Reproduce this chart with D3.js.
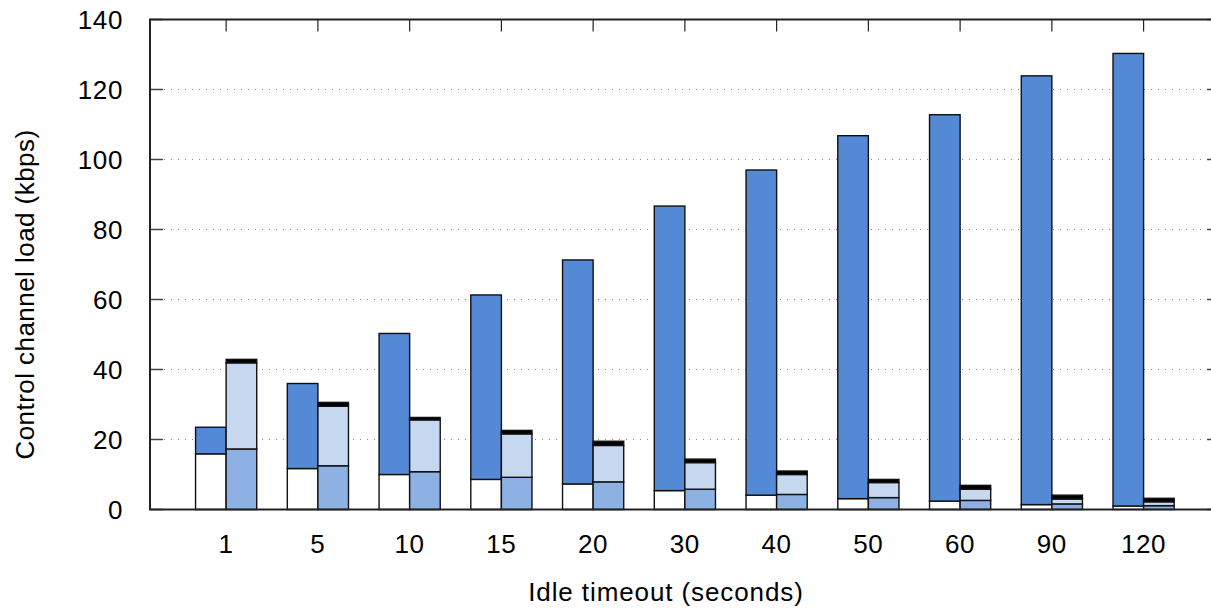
<!DOCTYPE html>
<head>
  <title>Control channel load vs idle timeout</title>
  <meta charset="utf-8">
  <style>
    body { margin: 0; background: #fff; }
    text { font-family: "Liberation Sans", Arial, sans-serif; fill: #000; }
  </style>
</head>
<body>
  <script src="https://cdn.jsdelivr.net/npm/d3@7"></script>
  <script>
    // idle timeouts (x categories)
    var timeouts = ["1", "5", "10", "15", "20", "30", "40", "50", "60", "90", "120"];

    // left bar of each pair: white bottom + dark blue top
    var leftBottom = [15.9, 11.7, 10.0, 8.6, 7.3, 5.4, 4.1, 3.1, 2.4, 1.4, 1.0];
    var leftTop = [7.6, 24.3, 40.3, 52.7, 64.0, 81.3, 92.9, 103.7, 110.4, 122.5, 129.3];

    // right bar of each pair: medium blue + light blue + thin black cap
    var rightBottom = [17.3, 12.5, 10.8, 9.2, 7.9, 5.8, 4.3, 3.4, 2.6, 1.6, 1.1];
    var rightMiddle = [24.6, 17.0, 14.8, 12.4, 10.4, 7.6, 5.7, 4.3, 3.2, 1.4, 1.1];
    var rightCap = [1.0, 1.1, 0.7, 1.0, 1.2, 1.0, 1.0, 0.9, 1.1, 1.1, 1.0];

    var yTicks = [0, 20, 40, 60, 80, 100, 120, 140];

    var margin = {top: 19.5, left: 150};
    var width = 1067, height = 490;

    var svg = d3.select("body").append("svg")
      .attr("width", 1211)
      .attr("height", 608);

    var g = svg.append("g")
      .attr("transform", "translate(" + margin.left + "," + margin.top + ")");

    var x = d3.scaleLinear().domain([-0.83, 10.8]).range([0, width]);
    var y = d3.scaleLinear().domain([0, 140]).range([height, 0]);
    var half = x(1 / 3) - x(0);

    // dotted grid
    g.append("g").selectAll("line")
      .data(yTicks.filter(function(d) { return d > 0 && d < 140; }))
      .enter().append("line")
      .attr("x1", 0).attr("x2", width)
      .attr("y1", function(d) { return y(d); })
      .attr("y2", function(d) { return y(d); })
      .attr("stroke", "#888")
      .attr("stroke-width", 1)
      .attr("stroke-dasharray", "1,6");

    // y ticks, left and right, plus labels
    var yt = g.append("g");
    yt.selectAll(".tl").data(yTicks).enter().append("line")
      .attr("x1", 0).attr("x2", 13)
      .attr("y1", function(d) { return y(d); }).attr("y2", function(d) { return y(d); })
      .attr("stroke", "#444").attr("stroke-width", 1.5);
    yt.selectAll(".tr").data(yTicks).enter().append("line")
      .attr("x1", width - 10).attr("x2", width)
      .attr("y1", function(d) { return y(d); }).attr("y2", function(d) { return y(d); })
      .attr("stroke", "#444").attr("stroke-width", 1.5);
    yt.selectAll("text").data(yTicks).enter().append("text")
      .attr("x", -27)
      .attr("y", function(d) { return y(d) + 9; })
      .attr("text-anchor", "end")
      .style("font-size", "26px")
      .style("letter-spacing", "0.6px")
      .text(function(d) { return d; });

    // x ticks top and labels
    var xt = g.append("g");
    xt.selectAll("line").data(timeouts).enter().append("line")
      .attr("x1", function(d, i) { return x(i); }).attr("x2", function(d, i) { return x(i); })
      .attr("y1", 0).attr("y2", 12)
      .attr("stroke", "#222").attr("stroke-width", 1.2);
    xt.selectAll("text").data(timeouts).enter().append("text")
      .attr("x", function(d, i) { return x(i); })
      .attr("y", height + 43.5)
      .attr("text-anchor", "middle")
      .style("font-size", "26px")
      .style("letter-spacing", "0.6px")
      .text(function(d) { return d; });

    // stacked bars
    function stackBar(segments, colors, offset) {
      var bars = g.append("g");
      timeouts.forEach(function(t, i) {
        var base = 0;
        segments.forEach(function(seg, k) {
          var v = seg[i];
          bars.append("rect")
            .attr("x", x(i) + offset)
            .attr("y", y(base + v))
            .attr("width", half)
            .attr("height", y(base) - y(base + v))
            .attr("fill", colors[k])
            .attr("stroke", "#111")
            .attr("stroke-width", 1.4);
          base += v;
        });
      });
    }
    stackBar([leftBottom, leftTop], ["#ffffff", "#5389d5"], -half);
    stackBar([rightBottom, rightMiddle, rightCap], ["#8eb1e4", "#c6d8f0", "#000000"], 0);

    // border (left, top, bottom)
    g.append("path")
      .attr("d", "M" + width + ",0H0V" + height + "H" + width)
      .attr("fill", "none")
      .attr("stroke", "#222")
      .attr("stroke-width", 2);

    // axis titles
    svg.append("text")
      .attr("transform", "translate(34," + (margin.top + height / 2 + 30) + ") rotate(-90)")
      .attr("text-anchor", "middle")
      .style("font-size", "26px")
      .style("letter-spacing", "0.45px")
      .text("Control channel load (kbps)");

    svg.append("text")
      .attr("x", 666)
      .attr("y", 601)
      .attr("text-anchor", "middle")
      .style("font-size", "26px")
      .style("letter-spacing", "0.9px")
      .text("Idle timeout (seconds)");
  </script>
</body>
